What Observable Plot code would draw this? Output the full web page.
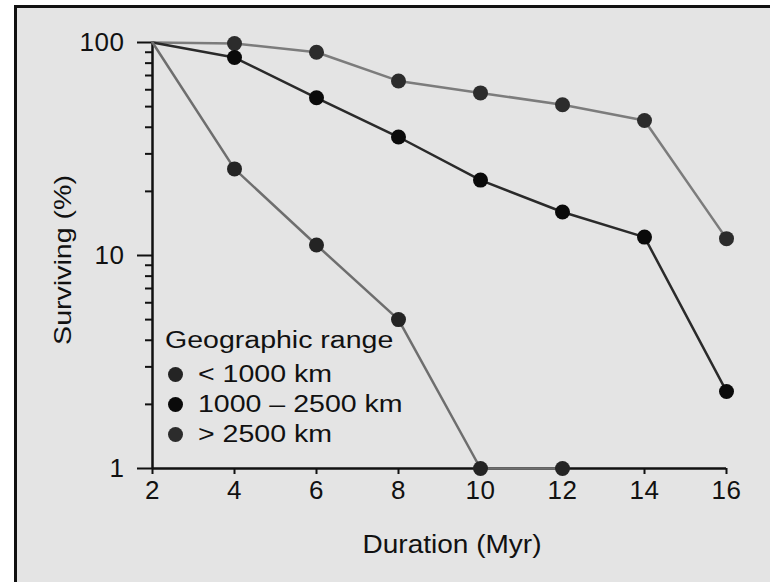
<!DOCTYPE html>
<html>
<head>
<meta charset="utf-8">
<script src="https://cdn.jsdelivr.net/npm/d3@7"></script>
<script src="https://cdn.jsdelivr.net/npm/@observablehq/plot@0.6"></script>
<style>
  html, body { margin: 0; padding: 0; background: #ffffff; }
  #wrap { position: relative; width: 770px; height: 582px; overflow: hidden; font-family: "Liberation Sans", Arial, Helvetica, sans-serif; color: #111; }
  #frame { position: absolute; left: 14px; top: 5px; right: 0; bottom: 0; background: #e4e4e4; border-left: 3px solid #111; border-top: 3px solid #111; }
  #chart { position: absolute; left: 0; top: 0; }
  .ttl { position: absolute; white-space: nowrap; font-size: 25px; line-height: 30px; }
  #xtitle { left: 452px; top: 529px; transform: translateX(-50%) scaleX(1.12); }
  #ytitle { left: 63px; top: 260px; font-size: 24px; transform: translate(-50%, -50%) rotate(-90deg) scaleX(1.19); }
  #legend { position: absolute; left: 165px; top: 325px; font-size: 23px; }
  #legend .row { position: absolute; left: 0; height: 30px; line-height: 30px; white-space: nowrap; }
  #legend .txt { display: inline-block; transform-origin: left center; transform: scaleX(1.24); }
  #legend .dot { position: absolute; width: 15px; height: 15px; border-radius: 50%; top: 8px; left: 3px; }
</style>
</head>
<body>
<div id="wrap">
  <div id="frame"></div>
  <div id="chart"></div>
  <div id="xtitle" class="ttl"></div>
  <div id="ytitle" class="ttl"></div>
  <div id="legend"></div>
</div>
<script>
// ---- data ----
const durations = [2, 4, 6, 8, 10, 12, 14, 16];
const survLarge = [100, 99, 90, 66, 58, 51, 43, 12];      // > 2500 km
const survMid   = [100, 85, 55, 36, 22.6, 16, 12.2, 2.3];  // 1000 – 2500 km
const survSmall = [100, 25.5, 11.2, 5.0, 1.0, 1.0];        // < 1000 km
const seriesNames = ["< 1000 km", "1000 \u2013 2500 km", "> 2500 km"];
const xTicks = [2, 4, 6, 8, 10, 12, 14, 16];
const yMajor = [1, 10, 100];
const yMinor = [2, 3, 4, 5, 6, 7, 8, 9, 20, 30, 40, 50, 60, 70, 80, 90];
const legendTitle = "Geographic range";
const xTitle = "Duration (Myr)";
const yTitle = "Surviving (%)";

// ---- styles ----
const lineColors = {"< 1000 km": "#6e6e6e", "1000 \u2013 2500 km": "#2a2a2a", "> 2500 km": "#7c7c7c"};
const dotColors  = {"< 1000 km": "#242424", "1000 \u2013 2500 km": "#0a0a0a", "> 2500 km": "#2c2c2c"};

const toRows = (name, vals) => vals.map((v, i) => ({series: name, x: durations[i], y: v}));
const small = toRows(seriesNames[0], survSmall);
const mid = toRows(seriesNames[1], survMid);
const large = toRows(seriesNames[2], survLarge);

const chart = Plot.plot({
  width: 770,
  height: 582,
  marginLeft: 152,
  marginRight: 44,
  marginTop: 42,
  marginBottom: 114,
  style: {background: "transparent", fontFamily: "'Liberation Sans', Arial, Helvetica, sans-serif", color: "#111", overflow: "visible"},
  x: {domain: [2, 16]},
  y: {type: "log", domain: [1, 100]},
  marks: [
    Plot.axisX({ticks: xTicks, tickSize: 6, tickPadding: 6, label: null, fontSize: 26, strokeWidth: 2, tickFormat: d => String(d)}),
    Plot.axisY({ticks: yMajor, tickSize: 15, tickPadding: 13, label: null, fontSize: 26, strokeWidth: 2, tickFormat: d => String(d)}),
    Plot.axisY({ticks: yMinor, tickSize: 7, label: null, strokeWidth: 2, tickFormat: () => ""}),
    Plot.ruleX([2], {stroke: "#111", strokeWidth: 2.5}),
    Plot.ruleY([1], {stroke: "#111", strokeWidth: 2.5}),
    Plot.line(large, {x: "x", y: "y", stroke: lineColors[seriesNames[2]], strokeWidth: 2.5}),
    Plot.line(mid, {x: "x", y: "y", stroke: lineColors[seriesNames[1]], strokeWidth: 2.5}),
    Plot.line(small, {x: "x", y: "y", stroke: lineColors[seriesNames[0]], strokeWidth: 2.5}),
    Plot.dot(large.slice(1), {x: "x", y: "y", r: 7.5, fill: dotColors[seriesNames[2]]}),
    Plot.dot(mid.slice(1), {x: "x", y: "y", r: 7.5, fill: dotColors[seriesNames[1]]}),
    Plot.dot(small.slice(1), {x: "x", y: "y", r: 7.5, fill: dotColors[seriesNames[0]]})
  ]
});
chart.querySelectorAll("text").forEach(t => {
  t.style.fontSize = "26px";
  t.setAttribute("letter-spacing", "0.5");
});
document.getElementById("chart").appendChild(chart);

document.getElementById("xtitle").textContent = xTitle;
document.getElementById("ytitle").textContent = yTitle;

const legend = document.getElementById("legend");
const head = document.createElement("div");
head.className = "row";
head.style.top = "0px";
head.innerHTML = `<span class="txt">${legendTitle}</span>`;
legend.appendChild(head);
const rowTops = [34, 64, 94];
seriesNames.forEach((name, i) => {
  const row = document.createElement("div");
  row.className = "row";
  row.style.top = rowTops[i] + "px";
  const dot = document.createElement("span");
  dot.className = "dot";
  dot.style.background = dotColors[name];
  const txt = document.createElement("span");
  txt.className = "txt";
  txt.style.marginLeft = "33px";
  txt.textContent = name;
  row.appendChild(dot);
  row.appendChild(txt);
  legend.appendChild(row);
});
</script>
</body>
</html>
